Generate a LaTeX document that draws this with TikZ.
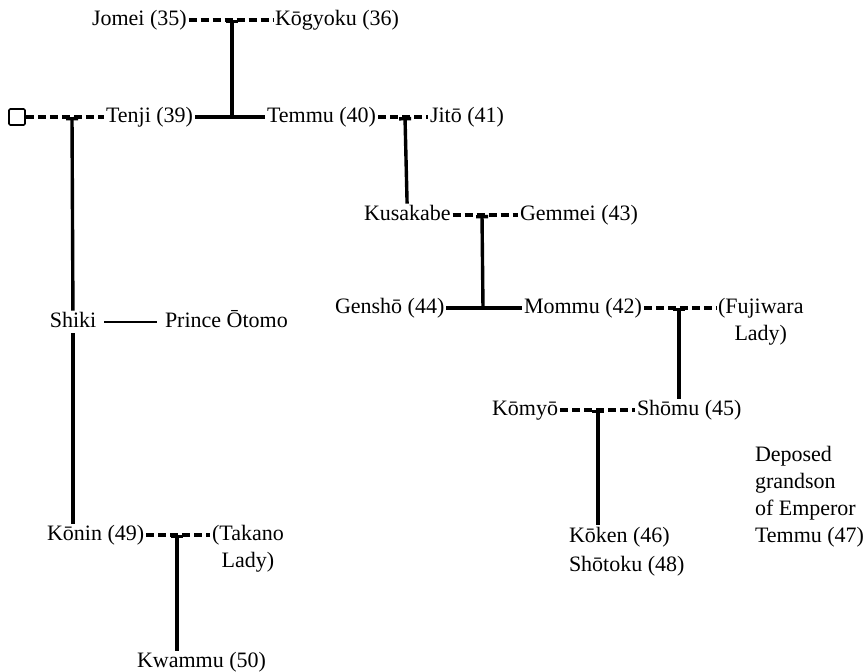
\documentclass[tikz,border=0pt]{standalone}
\usepackage{fontspec}
\setmainfont{Liberation Serif}
\usetikzlibrary{arrows.meta}
\begin{document}
\begin{tikzpicture}[x=0.5pt,y=-0.5pt,
		person/.style={inner sep=1pt, outer sep=0pt, anchor=west, text height=1.6ex, text depth=0.45ex, font=\fontsize{11}{13.5}\selectfont},
		note/.style={inner sep=1pt, outer sep=0pt, anchor=north west, align=left, font=\fontsize{11}{13.5}\selectfont},
		wed/.style={line width=1.6pt, dash pattern=on 4pt off 2pt},
		kin/.style={line width=1.7pt},
		issue/.style={kin, {Bar[width=6pt]}-},
	]
			\useasboundingbox (0,0) rectangle (863,671);
			% people
			\node[draw, line width=0.8pt, minimum size=8pt, inner sep=0pt, rounded corners=0.6pt] (anon) at (17,117) {};
			\node[person] (jomei) at (90,20) {Jomei (35)};
			\node[person] (kogyoku) at (273,20) {Kōgyoku (36)};
			\node[person] (tenji) at (104,117) {Tenji (39)};
			\node[person] (temmu) at (265,117) {Temmu (40)};
			\node[person] (jito) at (428,117) {Jitō (41)};
			\node[person] (kusakabe) at (362,215) {Kusakabe};
			\node[person] (gemmei) at (518,215) {Gemmei (43)};
			\node[person] (gensho) at (333,308) {Genshō (44)};
			\node[person] (mommu) at (522,308) {Mommu (42)};
			\node[note, align=center] (fujiwara) at (716,296) {(Fujiwara\\Lady)};
			\node[person, anchor=center] (shiki) at (73,322) {Shiki};
			\node[person] (otomo) at (163,322) {Prince Ōtomo};
			\node[person] (komyo) at (490,410) {Kōmyō};
			\node[person] (shomu) at (635,410) {Shōmu (45)};
			\node[note] (deposed) at (753,444) {Deposed\\grandson\\of Emperor\\Temmu (47)};
			\node[person] (konin) at (45,535) {Kōnin (49)};
			\node[note, align=center] (takano) at (210,523) {(Takano\\Lady)};
			\node[note] (koken) at (567,525) {Kōken (46)\\[1pt]Shōtoku (48)};
			\node[person] (kwammu) at (135,662) {Kwammu (50)};
			% junctions
			\coordinate (jk) at (232,20);
			\coordinate (tt) at (232,117);
			\coordinate (at) at (72,117);
			\coordinate (tj) at (405,117);
			\coordinate (kg) at (482,215);
			\coordinate (gm) at (483,308);
			\coordinate (mf) at (679,308);
			\coordinate (ks) at (598,410);
			\coordinate (kt) at (177,535);
			% marriages
			\draw[wed] (jomei) -- (kogyoku);
			\draw[wed] (anon) -- (tenji);
			\draw[wed] (temmu) -- (jito);
			\draw[wed] (kusakabe) -- (gemmei);
			\draw[wed] (mommu) -- (fujiwara.west |- mommu.east);
			\draw[wed] (komyo) -- (shomu);
			\draw[wed] (konin) -- (takano.west |- konin.east);
			\draw[kin] (tenji) -- (temmu);
			\draw[kin] (gensho) -- (mommu);
			\draw[line width=1.2pt, shorten <=3pt, shorten >=3pt] (shiki) -- (otomo);
			% descent
			\draw[issue] (jk) -- (tt);
			\draw[issue] (tj) -- (kusakabe);
			\draw[issue] (kg) -- (gm);
			\draw[issue] (mf) -- (mf |- shomu.north);
			\draw[issue] (ks) -- (ks |- koken.north);
			\draw[issue] (at) -- (shiki);
			\draw[kin] (shiki) -- (shiki |- konin.north);
			\draw[issue] (kt) -- (kt |- kwammu.north);
		\end{tikzpicture}
\end{document}
